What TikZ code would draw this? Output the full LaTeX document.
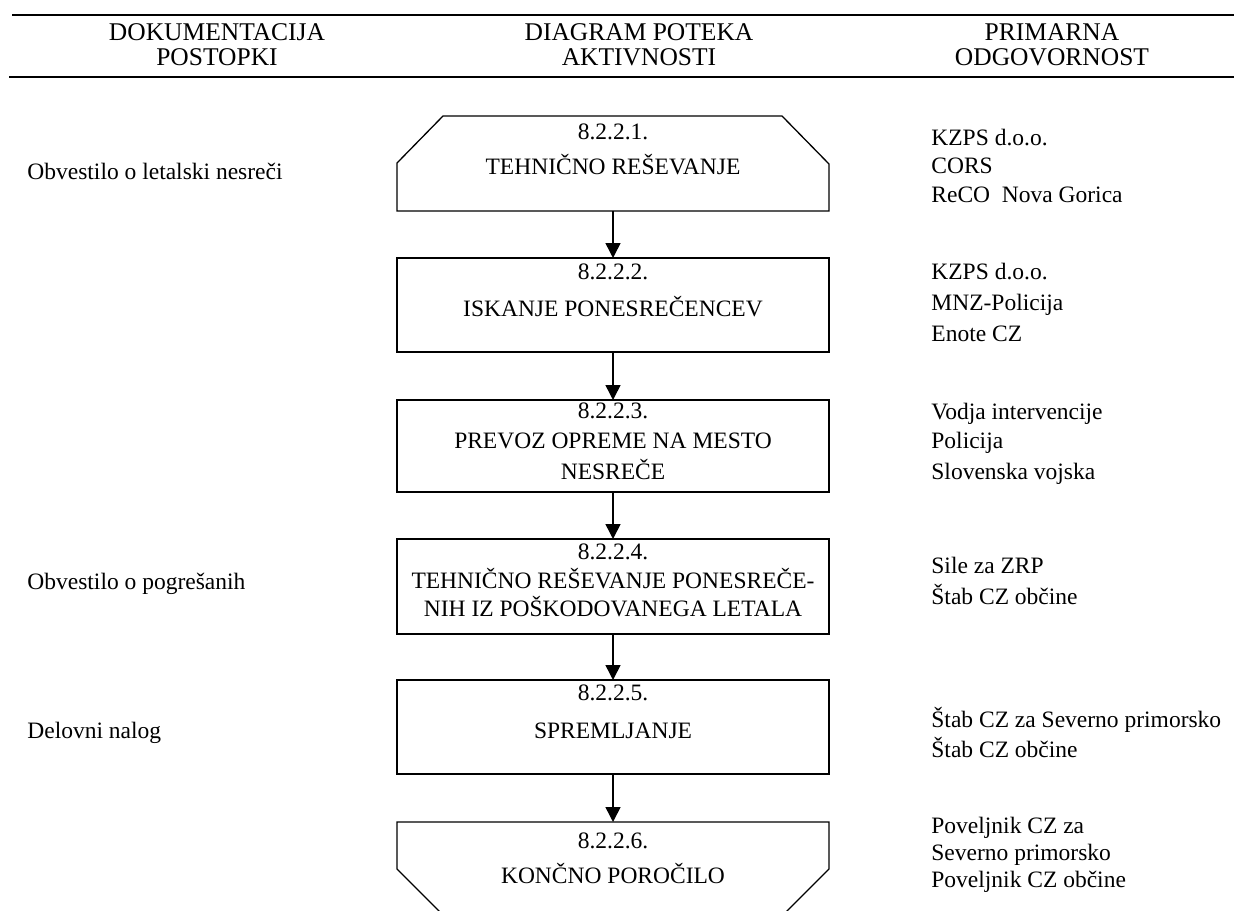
\documentclass[tikz,border=0pt]{standalone}
\usepackage{fontspec}
\setmainfont{Liberation Serif}
\usetikzlibrary{arrows.meta,calc}
\begin{document}
\begin{tikzpicture}[x=0.5pt,y=-0.5pt,
  boxnode/.style={draw=none,minimum width=216pt,inner sep=0pt,outer sep=0pt},
  outline/.style={draw=black,line width=0.65pt,line join=miter},
  hline/.style={draw=black,line width=1pt},
  arr/.style={draw=black,line width=0.75pt,-{Triangle[width=7.5pt,length=7.5pt]}},
  hdr/.style={anchor=base,inner sep=0pt,font=\fontsize{12.75}{15}\selectfont},
  btxt/.style={anchor=base,inner sep=0pt,font=\fontsize{11.75}{14}\selectfont},
  ltxt/.style={anchor=base west,inner sep=0pt,font=\fontsize{11.75}{14}\selectfont}]
\useasboundingbox (0,0) rectangle (1234,910);
\clip (0,0) rectangle (1234,910);
% header rules
\coordinate (ha) at (12,15);
\coordinate (hb) at (1234,15);
\coordinate (hc) at (9,77);
\coordinate (hd) at (1234,77);
\draw[hline] (ha) -- (hb);
\draw[hline] (hc) -- (hd);
\node[hdr] (h11) at (217,40) {DOKUMENTACIJA};
\node[hdr] (h12) at (217,65) {POSTOPKI};
\node[hdr] (h21) at (639,40) {DIAGRAM POTEKA};
\node[hdr] (h22) at (639,65) {AKTIVNOSTI};
\node[hdr] (h31) at (1052,40) {PRIMARNA};
\node[hdr] (h32) at (1052,65) {ODGOVORNOST};
% boxes
\node[boxnode,minimum height=47.5pt] (b1) at (613,163.5) {};
\node[boxnode,minimum height=47pt,draw=black,line width=0.65pt] (b2) at (613,305) {};
\node[boxnode,minimum height=46pt,draw=black,line width=0.65pt] (b3) at (613,446) {};
\node[boxnode,minimum height=47.5pt,draw=black,line width=0.65pt] (b4) at (613,586.5) {};
\node[boxnode,minimum height=47pt,draw=black,line width=0.65pt] (b5) at (613,727) {};
\node[boxnode,minimum height=47pt] (b6) at (613,869) {};
\draw[outline] (b1.south west) -- ($(b1.north west)+(0,47)$) -- ($(b1.north west)+(46,0)$)
  -- ($(b1.north east)+(-47,0)$) -- ($(b1.north east)+(0,48)$) -- (b1.south east) -- cycle;
\draw[outline] ($(b6.south west)+(47,0)$) -- ($(b6.north west)+(0,47)$) -- (b6.north west)
  -- (b6.north east) -- ($(b6.north east)+(0,47)$) -- ($(b6.south east)+(-47,0)$);
% arrows
\draw[arr] (b1.south) -- (b2.north);
\draw[arr] (b2.south) -- (b3.north);
\draw[arr] (b3.south) -- (b4.north);
\draw[arr] (b4.south) -- (b5.north);
\draw[arr] (b5.south) -- (b6.north);
% box texts
\node[btxt] (t11) at (613,139.5) {8.2.2.1.};
\node[btxt] (t12) at (613,174.5) {TEHNIČNO REŠEVANJE};
\node[btxt] (t21) at (613,279.5) {8.2.2.2.};
\node[btxt] (t22) at (613,316.5) {ISKANJE PONESREČENCEV};
\node[btxt] (t31) at (613,418.5) {8.2.2.3.};
\node[btxt] (t32) at (613,448.5) {PREVOZ OPREME NA MESTO};
\node[btxt] (t33) at (613,479.5) {NESREČE};
\node[btxt] (t41) at (613,559.5) {8.2.2.4.};
\node[btxt] (t42) at (613,588.5) {TEHNIČNO REŠEVANJE PONESREČE-};
\node[btxt] (t43) at (613,616.5) {NIH IZ POŠKODOVANEGA LETALA};
\node[btxt] (t51) at (613,700.5) {8.2.2.5.};
\node[btxt] (t52) at (613,738.5) {SPREMLJANJE};
\node[btxt] (t61) at (613,848.5) {8.2.2.6.};
\node[btxt] (t62) at (613,883.5) {KONČNO POROČILO};
% left column
\node[ltxt] (l1) at (27,179) {Obvestilo o letalski nesreči};
\node[ltxt] (l2) at (27,589) {Obvestilo o pogrešanih};
\node[ltxt] (l3) at (27,738) {Delovni nalog};
% right column
\node[ltxt] (r11) at (931,145) {KZPS d.o.o.};
\node[ltxt] (r12) at (931,173) {CORS};
\node[ltxt] (r13) at (931,202) {ReCO\ \ Nova Gorica};
\node[ltxt] (r21) at (931,279) {KZPS d.o.o.};
\node[ltxt] (r22) at (931,310) {MNZ-Policija};
\node[ltxt] (r23) at (931,341) {Enote CZ};
\node[ltxt] (r31) at (931,419) {Vodja intervencije};
\node[ltxt] (r32) at (931,448) {Policija};
\node[ltxt] (r33) at (931,479) {Slovenska vojska};
\node[ltxt] (r41) at (931,573) {Sile za ZRP};
\node[ltxt] (r42) at (931,604) {Štab CZ občine};
\node[ltxt] (r51) at (931,727) {Štab CZ za Severno primorsko};
\node[ltxt] (r52) at (931,757) {Štab CZ občine};
\node[ltxt] (r61) at (931,833) {Poveljnik CZ za};
\node[ltxt] (r62) at (931,860) {Severno primorsko};
\node[ltxt] (r63) at (931,887) {Poveljnik CZ občine};
\end{tikzpicture}
\end{document}
